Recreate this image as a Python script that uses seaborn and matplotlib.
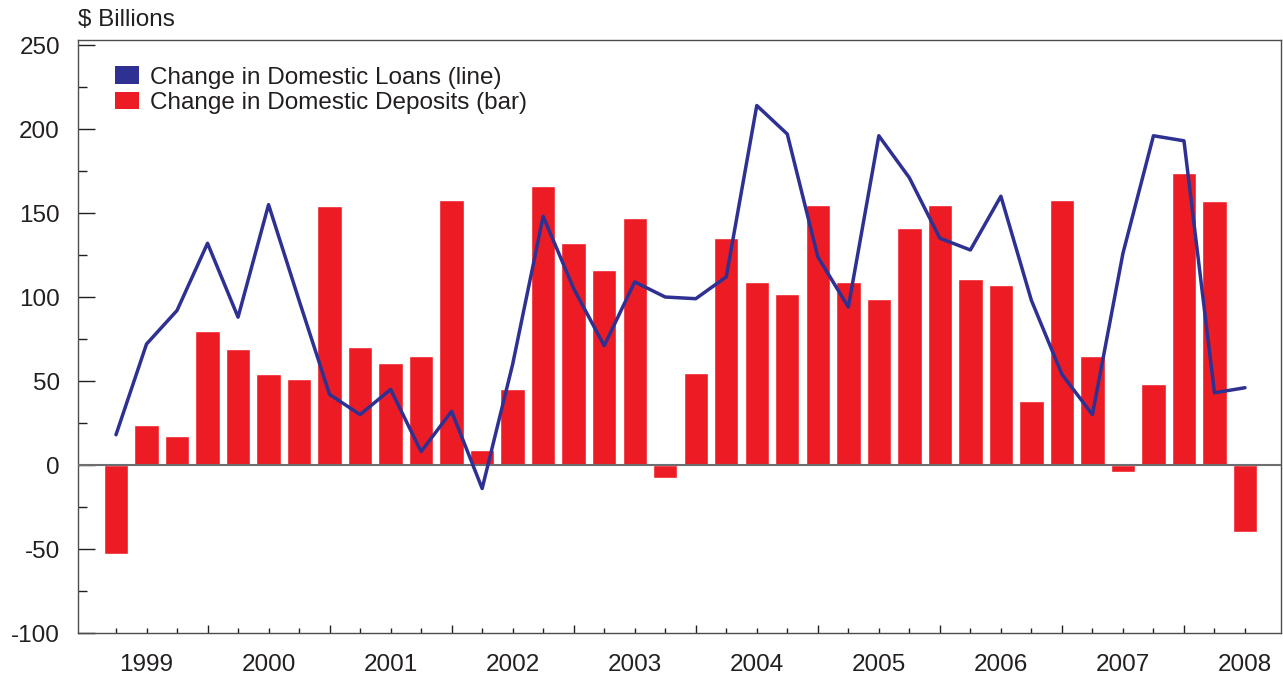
import numpy as np
import pandas as pd
import seaborn as sns
import matplotlib
matplotlib.use("Agg")
import matplotlib.pyplot as plt
from matplotlib.patches import Patch

# quarterly changes, $ billions (1999Q1 .. 2008Q2)
deposits = [-53, 24, 17, 80, 69, 54, 51, 154, 70, 61, 65, 158,
            9, 45, 166, 132, 116, 147, -8, 55, 135, 109, 102, 155,
            109, 99, 141, 155, 111, 107, 38, 158, 65, -4, 48, 174,
            157, -40]
loans = [18, 72, 92, 132, 88, 155, 98, 42, 30, 45, 8, 32,
         -14, 60, 148, 105, 71, 109, 100, 99, 112, 214, 197, 124,
         94, 196, 171, 135, 128, 160, 98, 54, 30, 126, 196, 193,
         43, 46]
years = ['1999', '2000', '2001', '2002', '2003', '2004', '2005',
         '2006', '2007', '2008']

RED = '#ED1C24'
BLUE = '#2E3192'
TXT = '#231F20'

df = pd.DataFrame({'q': np.arange(len(deposits)), 'deposits': deposits, 'loans': loans})

sns.set_theme(style='white')
plt.rcParams['font.family'] = ['Liberation Sans', 'DejaVu Sans']
plt.rcParams['axes.unicode_minus'] = False
plt.rcParams['text.color'] = TXT
plt.rcParams['xtick.color'] = TXT
plt.rcParams['ytick.color'] = TXT

fig = plt.figure(figsize=(12.83, 6.74), dpi=100)
ax = fig.add_axes([78/1283, 41/674, 1203/1283, 593/674])

sns.barplot(data=df, x='q', y='deposits', native_scale=True, width=0.8,
            color=RED, saturation=1, ax=ax, zorder=2)
ax.axhline(0, color='#6D6E71', lw=1.5, zorder=3)
sns.lineplot(data=df, x='q', y='loans', color=BLUE, lw=2.5, ax=ax, zorder=4)

ax.set_xlim(-1.245, 38.18)
ax.set_ylim(-100, 253)

# y ticks
ax.set_yticks(np.arange(-100, 251, 50))
ax.set_yticks(np.arange(-75, 251, 50), minor=True)
ax.tick_params(axis='y', which='major', direction='in', length=12, width=1,
               color='#231F20', labelsize=17.5, pad=13, left=True)
ax.tick_params(axis='y', which='minor', direction='in', length=6.5, width=1,
               color='#231F20', left=True)

# x ticks: long tick every 4th bar, short elsewhere, year labels
n = len(deposits)
long_pos = [i for i in range(n) if i % 4 == 3]
short_pos = [i for i in range(n) if i % 4 != 3]
short_lab = [years[(i - 1) // 4] if i % 4 == 1 else '' for i in short_pos]
ax.set_xticks(long_pos, [''] * len(long_pos))
ax.set_xticks(short_pos, short_lab, minor=True)
ax.tick_params(axis='x', which='major', direction='in', length=6, width=1,
               color='#231F20', bottom=True)
ax.tick_params(axis='x', which='minor', direction='in', length=3.5, width=1,
               color='#231F20', bottom=True, labelsize=17.5, pad=15)

ax.set_xlabel('')
ax.set_ylabel('')
for s in ax.spines.values():
    s.set_color('#4D4D4F')
    s.set_linewidth(1)

handles = [Patch(facecolor=BLUE, edgecolor='none'), Patch(facecolor=RED, edgecolor='none')]
leg = ax.legend(handles, ['Change in Domestic Loans (line)', 'Change in Domestic Deposits (bar)'],
                loc='upper left', bbox_to_anchor=(0.0225, 0.972), frameon=False,
                fontsize=17.5, handlelength=1.0, handleheight=0.75,
                handletextpad=0.45, labelspacing=0.12, borderaxespad=0)

fig.text(78/1283, 1 - 20/674, '$ Billions', fontsize=17.5, va='center', ha='left')

fig.savefig('out.png', dpi=100)
